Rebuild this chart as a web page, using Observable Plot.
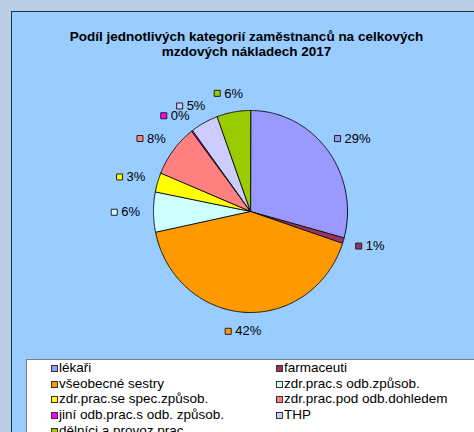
<!DOCTYPE html>
<html><head><meta charset="utf-8">
<script src="https://cdn.jsdelivr.net/npm/d3@7"></script>
<script src="https://cdn.jsdelivr.net/npm/@observablehq/plot@0.6"></script>
<style>
html,body{margin:0;padding:0;width:474px;height:432px;overflow:hidden;background:#b9cde5;font-family:"Liberation Sans",Arial,sans-serif;}
#panel{position:absolute;left:11px;top:11px;width:480px;height:440px;background:#99ccff;border-left:1px solid #1c2e4a;border-top:1px solid #1c2e4a;}
#title{position:absolute;left:0;top:29px;width:493px;text-align:center;font-weight:bold;font-size:13.5px;line-height:15px;color:#000;}
#chart{position:absolute;left:0;top:0;}
#legendbox{position:absolute;left:26px;top:359px;width:470px;height:100px;background:#fff;border:1px solid #7f7f7f;}
.item{position:absolute;font-size:13.5px;line-height:15px;white-space:nowrap;color:#000;}
.sw{position:absolute;left:-8px;top:5px;width:5px;height:5px;border:1px solid #333;}
</style>
</head><body>
<div id="panel"></div>
<div id="title">Podíl jednotlivých kategorií zaměstnanců na celkových<br>mzdových nákladech 2017</div>
<div id="chart"></div>
<div id="legendbox"></div>
<div id="legend"></div>
<script>
const categories = ["lékaři","farmaceuti","všeobecné sestry","zdr.prac.s odb.způsob.","zdr.prac.se spec.způsob.","zdr.prac.pod odb.dohledem","jiní odb.prac.s odb. způsob.","THP","dělníci a provoz.prac."];
const shares = [29.2, 0.9, 41.6, 6.4, 3.1, 8.4, 0.2, 4.6, 5.6];
const colors = ["#9999ff","#993366","#ff9900","#ccffff","#ffff00","#ff8080","#ff00ff","#ccccff","#99cc00"];

// layout constants
const W = 474, H = 432, CX = 250, CY = 211, RX = 97, RY = 101, GAP = 13, FS = 13;

const ctx = document.createElement("canvas").getContext("2d");
ctx.font = FS + "px 'Liberation Sans', Arial";
const tw = t => ctx.measureText(t).width;

const arcs = d3.pie().sort(null).value(d => d)(shares);
const slicePts = [];
arcs.forEach((p, i) => {
  const cat = categories[i];
  slicePts.push({cat, x: 0, y: 0});
  const n = Math.max(2, Math.ceil((p.endAngle - p.startAngle) / 0.01));
  for (let k = 0; k <= n; k++) {
    const a = p.startAngle + (p.endAngle - p.startAngle) * k / n;
    slicePts.push({cat, x: Math.sin(a), y: Math.cos(a)});
  }
});

const labels = arcs.map((p, i) => {
  const a = (p.startAngle + p.endAngle) / 2, s = Math.sin(a), c = Math.cos(a);
  const t = Math.round(shares[i]) + "%";
  const w = 11 + tw(t), h = 12;
  const bx = s * (RX + GAP) + s * w / 2;
  const by = c * (RY + GAP) + c * h / 2;
  return {cat: categories[i], t, mx: (bx - w / 2 + 3.5) / RX, tx: (bx - w / 2 + 10.5) / RX, y: by / RY};
});

const plot = Plot.plot({
  width: W, height: H,
  marginTop: 0, marginRight: 0, marginBottom: 0, marginLeft: 0,
  style: {background: "transparent", overflow: "visible"},
  x: {domain: [-1, 1], range: [CX - RX, CX + RX], axis: null},
  y: {domain: [-1, 1], range: [CY + RY, CY - RY], axis: null},
  color: {domain: categories, range: colors},
  marks: [
    Plot.line(slicePts, {x: "x", y: "y", z: "cat", fill: "cat", stroke: "#111", strokeWidth: 1, curve: "linear-closed", strokeLinejoin: "round"}),
    Plot.dot(labels, {x: "mx", y: "y", fill: "cat", symbol: "square", r: 3.4, stroke: "#222", strokeWidth: 1}),
    Plot.text(labels, {x: "tx", y: "y", text: "t", textAnchor: "start", fontSize: FS, fill: "#000", fontFamily: "'Liberation Sans', Arial, sans-serif"})
  ]
});
document.getElementById("chart").appendChild(plot);

// legend
const leg = document.getElementById("legend");
categories.forEach((c, i) => {
  const col = i % 2, row = Math.floor(i / 2);
  const d = document.createElement("div");
  d.className = "item";
  d.style.left = (col ? 284 : 59) + "px";
  d.style.top = (360 + row * 15.7) + "px";
  d.textContent = c;
  const sw = document.createElement("span");
  sw.className = "sw";
  sw.style.background = colors[i];
  d.appendChild(sw);
  leg.appendChild(d);
});
</script>
</body></html>
